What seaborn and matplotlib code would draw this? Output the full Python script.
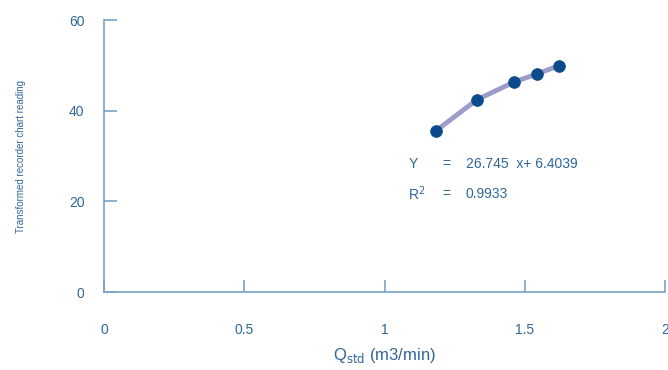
import pandas as pd
import seaborn as sns
import matplotlib.pyplot as plt

# ------------------------------
# Data
# ------------------------------
q_std = [1.182, 1.329, 1.461, 1.543, 1.621]
chart_reading = [35.5, 42.4, 46.3, 48.1, 49.9]
x_ticks = [0, 0.5, 1, 1.5, 2]
x_tick_labels = ["0", "0.5", "1", "1.5", "2"]
y_ticks = [0, 20, 40, 60]

df = pd.DataFrame({"q": q_std, "reading": chart_reading})

# ------------------------------
# Style
# ------------------------------
sns.set_style("white")
plt.rcParams["font.family"] = ["Liberation Sans", "DejaVu Sans"]

axis_col = "#7aa3c8"
text_col = "#2f6699"
line_col = "#9c9cc8"
marker_col = "#0b4b8c"

fig = plt.figure(figsize=(6.68, 3.70), dpi=100)
ax = fig.add_axes([0.1557, 0.2108, 0.8398, 0.7351])

sns.lineplot(data=df, x="q", y="reading", ax=ax, color=line_col, linewidth=3.5)
sns.scatterplot(data=df, x="q", y="reading", ax=ax, color=marker_col, s=70,
                edgecolor=marker_col, zorder=3)

ax.set_xlim(0, 2)
ax.set_ylim(0, 60)
ax.set_xticks(x_ticks)
ax.set_xticklabels(x_tick_labels)
ax.set_yticks(y_ticks)

for side in ["top", "right"]:
    ax.spines[side].set_visible(False)
for side in ["left", "bottom"]:
    ax.spines[side].set_color(axis_col)
    ax.spines[side].set_linewidth(1.2)

ax.tick_params(axis="x", bottom=True, direction="in", length=9, width=1.2, color=axis_col,
               labelcolor=text_col, labelsize=10, pad=22)
ax.tick_params(axis="y", left=True, direction="in", length=9, width=1.2, color=axis_col,
               labelcolor=text_col, labelsize=10, pad=14)

ax.set_xlabel(r"Q$_{\mathrm{std}}$ (m3/min)", color=text_col, fontsize=12, labelpad=7)
ax.set_ylabel("Transformed recorder chart reading", color=text_col, fontsize=7, labelpad=31)

# regression annotation
ax.text(1.085, 28.2, "Y", color=text_col, fontsize=10, va="center")
ax.text(1.205, 28.2, "=", color=text_col, fontsize=10, va="center")
ax.text(1.290, 28.2, "26.745  x+ 6.4039", color=text_col, fontsize=10, va="center")
ax.text(1.085, 21.6, r"R$^{2}$", color=text_col, fontsize=10, va="center")
ax.text(1.205, 21.6, "=", color=text_col, fontsize=10, va="center")
ax.text(1.290, 21.6, "0.9933", color=text_col, fontsize=10, va="center")

fig.savefig("out.png", dpi=100)
